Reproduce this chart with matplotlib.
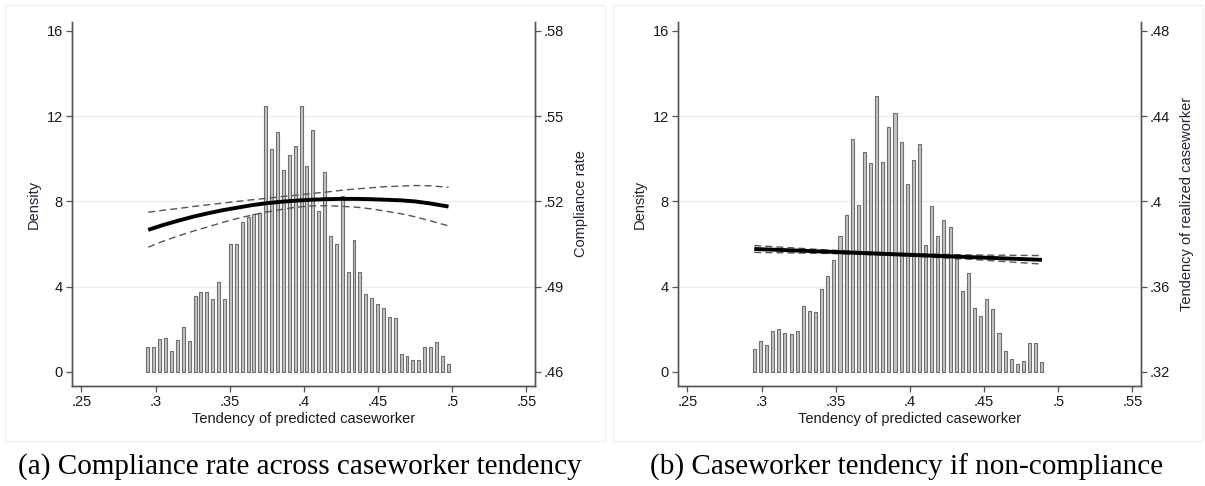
import numpy as np
import matplotlib.pyplot as plt
from matplotlib.patches import Rectangle

plt.rcParams['font.family'] = ['Liberation Sans', 'DejaVu Sans']

# histogram densities, panel (a): compliance sample
dens_a = [1.19, 1.16, 1.56, 1.59, 0.99, 1.50, 2.13, 1.46, 3.58, 3.77, 3.77, 3.41, 4.23,
          3.41, 5.98, 6.00, 7.03, 7.26, 7.42, 7.46, 12.50, 10.47, 11.24, 9.47, 10.16, 10.61,
          12.46, 9.64, 11.33, 7.57, 9.36, 6.40, 5.98, 8.26, 4.71, 6.21, 4.69, 3.65, 3.46,
          3.18, 2.99, 2.60, 2.52, 0.85, 0.75, 0.55, 0.55, 1.19, 1.15, 1.42, 0.75, 0.36]
first_a, last_a = 0.2948, 0.4973

# histogram densities, panel (b): non-compliance sample
dens_b = [1.06, 1.47, 1.25, 1.94, 2.00, 1.83, 1.77, 1.94, 3.11, 2.88, 2.82, 3.91, 4.50,
          5.26, 6.38, 7.37, 10.92, 7.82, 10.32, 9.79, 12.95, 9.87, 11.47, 12.14, 10.79,
          8.81, 9.93, 10.70, 5.96, 7.78, 6.38, 7.12, 6.80, 5.30, 3.82, 4.66, 3.00, 2.64,
          3.41, 2.94, 1.83, 0.97, 0.62, 0.38, 0.50, 1.37, 1.37, 0.47]
first_b, last_b = 0.2951, 0.4889

# quadratic fit with 95% CI, compliance rate
fit_x_a = [0.295, 0.305, 0.315, 0.325, 0.335, 0.345, 0.355, 0.365, 0.375, 0.385, 0.395,
           0.405, 0.415, 0.425, 0.435, 0.445, 0.455, 0.465, 0.475, 0.485, 0.4975]
fit_a = [0.5100, 0.5117, 0.5132, 0.5146, 0.5158, 0.5169, 0.5178, 0.5187, 0.5194, 0.5199,
         0.5203, 0.5206, 0.5208, 0.5209, 0.5209, 0.5208, 0.5206, 0.5204, 0.5200, 0.5193, 0.5182]
hi_a = [0.5162, 0.5169, 0.5175, 0.5182, 0.5188, 0.5194, 0.5200, 0.5206, 0.5211, 0.5217,
        0.5222, 0.5228, 0.5233, 0.5239, 0.5244, 0.5248, 0.5252, 0.5254, 0.5256, 0.5255, 0.5250]
lo_a = [0.5039, 0.5060, 0.5078, 0.5095, 0.5110, 0.5126, 0.5140, 0.5152, 0.5163, 0.5172,
        0.5180, 0.5184, 0.5185, 0.5183, 0.5180, 0.5174, 0.5166, 0.5157, 0.5146, 0.5132, 0.5114]

# linear fit with 95% CI, realized caseworker tendency
fit_x_b = [0.295, 0.345, 0.390, 0.440, 0.489]
fit_b = [0.3777, 0.3764, 0.3752, 0.3739, 0.3726]
hi_b = [0.3793, 0.3772, 0.3757, 0.3749, 0.3746]
lo_b = [0.3761, 0.3756, 0.3747, 0.3729, 0.3706]

x_ticks = [0.25, 0.30, 0.35, 0.40, 0.45, 0.50, 0.55]
x_labels = ['.25', '.3', '.35', '.4', '.45', '.5', '.55']
dens_ticks = [0, 4, 8, 12, 16]
right_a = ['.46', '.49', '.52', '.55', '.58']
right_b = ['.32', '.36', '.4', '.44', '.48']

captions = ['(a) Compliance rate across caseworker tendency',
            '(b) Caseworker tendency if non-compliance']
right_titles = ['Compliance rate', 'Tendency of realized caseworker']

W, H = 1205, 486
fig = plt.figure(figsize=(W / 100, H / 100), dpi=100)

# light graph-region frames
for x0, x1 in [(5, 605), (613, 1203)]:
    fig.add_artist(Rectangle((x0 / W, 1 - 441 / H), (x1 - x0) / W, 436 / H,
                             transform=fig.transFigure, fill=False,
                             edgecolor='#f0f0f0', lw=1))

spine_c = '#555555'
txt_c = '#1a1a1a'
ylo, yhi = -0.66, 16.42
fs = 10.5


def panel(left_px, dens, first, last, fx, fit, hi, lo, r0, rstep, rlabels, rtitle, cap, cap_x):
    ax = fig.add_axes([left_px / W, 1 - 386 / H, 463 / W, 364 / H])
    n = len(dens)
    centers = np.linspace(first, last, n)
    bw = (last - first) / (n - 1)
    ax.bar(centers, dens, width=bw * 0.5, color='#c4c4c4', edgecolor='#6e6e6e',
           linewidth=0.8, zorder=2)
    ax.set_xlim(0.2436, 0.5558)
    ax.set_ylim(ylo, yhi)
    ax.set_xticks(x_ticks)
    ax.set_xticklabels(x_labels)
    ax.set_yticks(dens_ticks)
    ax.set_yticklabels([str(t) for t in dens_ticks], rotation=0)
    for t in dens_ticks[1:-1]:
        ax.axhline(t, color='#e6eff1', lw=0.9, zorder=0)
    ax.set_xlabel('Tendency of predicted caseworker', fontsize=fs, color=txt_c, labelpad=2)
    ax.set_ylabel('Density', fontsize=fs, color='#2b1f33', labelpad=4)
    ax.spines['top'].set_visible(False)
    for s in ['left', 'bottom', 'right']:
        ax.spines[s].set_color(spine_c)
        ax.spines[s].set_linewidth(1.0)
    ax.tick_params(direction='out', length=4.5, width=0.9, color=spine_c,
                   labelsize=fs, labelcolor=txt_c, pad=2)

    # right axis for the fitted line
    ax2 = ax.twinx()
    ax2.set_ylim(r0 + ylo * rstep, r0 + yhi * rstep)
    ax2.set_yticks([r0 + t * rstep for t in dens_ticks])
    ax2.set_yticklabels(rlabels)
    ax2.spines['top'].set_visible(False)
    for s in ['left', 'bottom', 'right']:
        ax2.spines[s].set_color(spine_c)
        ax2.spines[s].set_linewidth(1.0)
    ax2.tick_params(direction='out', length=4.5, width=0.9, color=spine_c,
                    labelsize=fs, labelcolor=txt_c, pad=2)
    ax2.set_ylabel(rtitle, fontsize=fs, color='#2b1f33', labelpad=7)
    ax2.plot(fx, hi, color='#555555', lw=1.0, ls=(0, (5, 3)))
    ax2.plot(fx, lo, color='#555555', lw=1.0, ls=(0, (5, 3)))
    ax2.plot(fx, fit, color='black', lw=2.8, solid_capstyle='butt')

    fig.text(cap_x / W, 1 - 467 / H, cap, ha='center', va='center', fontsize=21,
             family=['Liberation Serif', 'DejaVu Serif'], color='black')


panel(72, dens_a, first_a, last_a, fit_x_a, fit_a, hi_a, lo_a, 0.46, 0.0075,
      right_a, right_titles[0], captions[0], 300)
panel(678, dens_b, first_b, last_b, fit_x_b, fit_b, hi_b, lo_b, 0.32, 0.01,
      right_b, right_titles[1], captions[1], 907)

fig.savefig('out.png', dpi=100)
